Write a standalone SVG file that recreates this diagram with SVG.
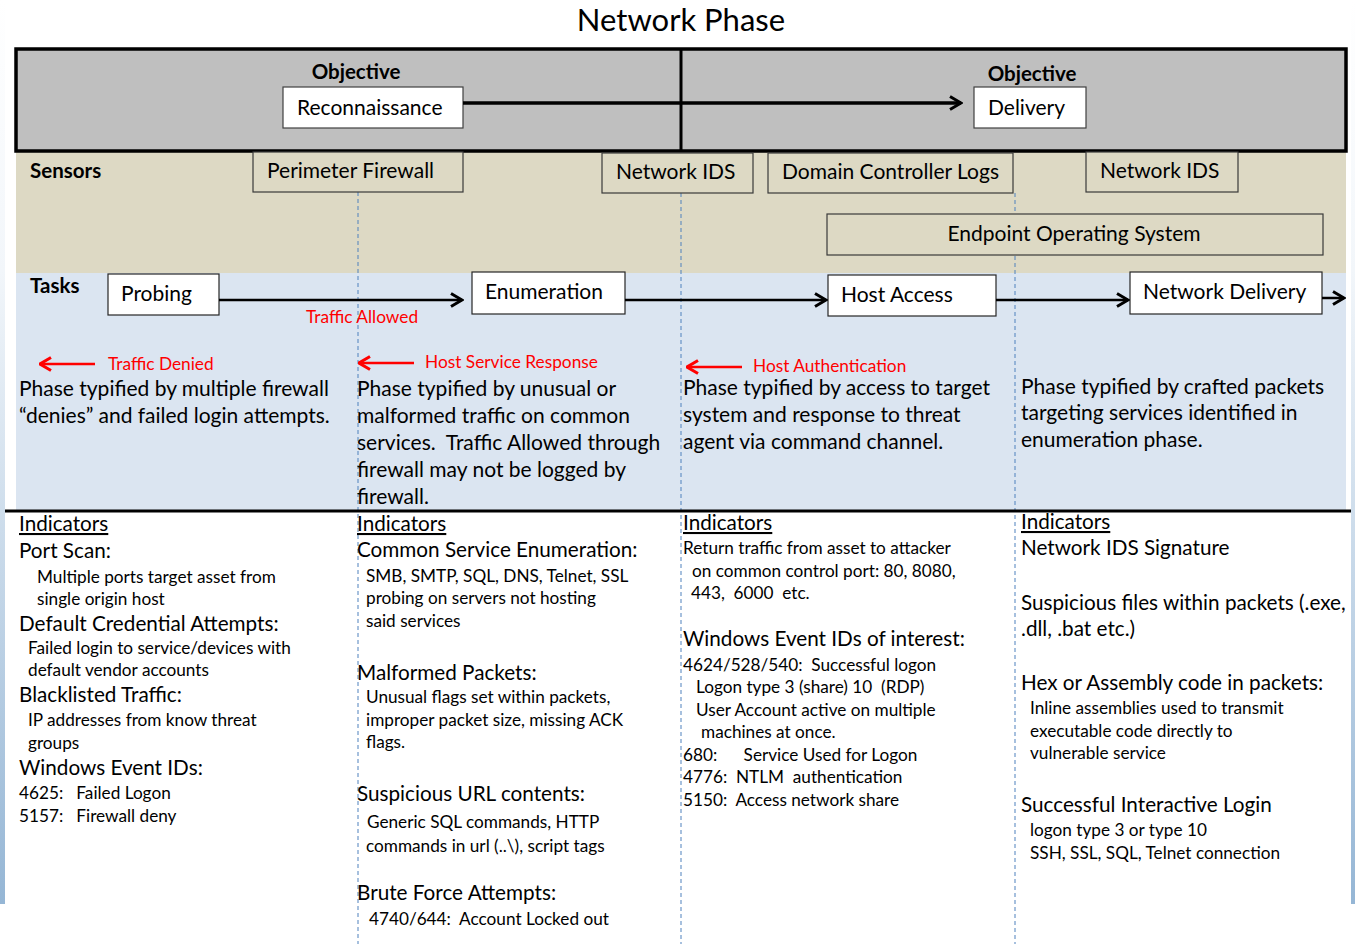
<svg xmlns="http://www.w3.org/2000/svg" width="1355" height="944" viewBox="0 0 1355 944">
  <defs>
    <linearGradient id="edgeFade" x1="0" y1="0" x2="0" y2="1">
      <stop offset="0" stop-color="#ffffff"/>
      <stop offset="0.3" stop-color="#f2f6fa"/>
      <stop offset="1" stop-color="#95b6d5"/>
    </linearGradient>
    <marker id="headBlack" viewBox="0 0 14 16" refX="12.5" refY="8" markerWidth="14" markerHeight="16" markerUnits="userSpaceOnUse" orient="auto">
      <path d="M1.5,1.5 L12.5,8 L1.5,14.5" fill="none" stroke="#000" stroke-width="3"/>
    </marker>
    <marker id="headRed" viewBox="0 0 14 16" refX="12.5" refY="8" markerWidth="14" markerHeight="16" markerUnits="userSpaceOnUse" orient="auto">
      <path d="M1.5,1.5 L12.5,8 L1.5,14.5" fill="none" stroke="#ff0000" stroke-width="3"/>
    </marker>
    <style>
      text { font-family: Lato, "Open Sans", "Liberation Sans", sans-serif; fill: #000; white-space: pre; }
      .title { font-size: 31px; }
      .lbl { font-weight: bold; font-size: 20.5px; }
      .box { font-size: 21px; }
      .red { fill: #ff0000; font-size: 17.3px; }
      .desc { font-size: 21px; }
      .h { font-size: 20.7px; }
      .s { font-size: 17.2px; }
      .u { text-decoration: underline; }
      .objbox { fill: #ffffff; stroke: #404040; stroke-width: 1.2; }
      .taskbox { fill: #ffffff; stroke: #262626; stroke-width: 1.2; }
      .sensor { fill: #ddd9c4; stroke: #3a3a3a; stroke-width: 1.2; }
      .dash { stroke: #4f81bd; stroke-width: 1; stroke-dasharray: 4 3; fill: none; }
      .flow { stroke: #000; fill: none; marker-end: url(#headBlack); }
      .back { stroke: #ff0000; stroke-width: 2.5; fill: none; marker-end: url(#headRed); }
    </style>
  </defs>

  <!-- page background and side fades -->
  <rect x="0" y="0" width="1355" height="944" fill="#ffffff"/>
  <rect x="0" y="0" width="5" height="904" fill="url(#edgeFade)"/>
  <rect x="1351" y="0" width="4" height="904" fill="url(#edgeFade)"/>

  <text class="title" x="681" y="31" text-anchor="middle">Network Phase</text>

  <!-- swimlane bands -->
  <g id="lanes">
    <rect x="16" y="151" width="1330" height="122" fill="#ddd9c4"/>
    <rect x="16" y="273" width="1330" height="238" fill="#dbe5f1"/>
    <rect x="16" y="49" width="1330" height="102" fill="#bfbfbf" stroke="#000" stroke-width="3.5"/>
    <line x1="681" y1="49" x2="681" y2="151" stroke="#000" stroke-width="3"/>
    <text class="lbl" x="30" y="178">Sensors</text>
    <text class="lbl" x="30" y="293">Tasks</text>
  </g>

  <!-- column dividers -->
  <g id="dividers">
    <line class="dash" x1="358" y1="192" x2="358" y2="944"/>
    <line class="dash" x1="681" y1="193" x2="681" y2="944"/>
    <line class="dash" x1="1015" y1="193" x2="1015" y2="944"/>
  </g>

  <line x1="5" y1="511" x2="1351" y2="511" stroke="#000" stroke-width="3"/>

  <!-- objectives -->
  <g id="obj-recon">
    <text class="lbl" x="356" y="79" text-anchor="middle">Objective</text>
    <rect class="objbox" x="283" y="87" width="180" height="41"/>
    <text class="box" x="297" y="115">Reconnaissance</text>
  </g>
  <g id="obj-delivery">
    <text class="lbl" x="1032" y="81" text-anchor="middle">Objective</text>
    <rect class="objbox" x="974" y="87" width="112" height="41"/>
    <text class="box" x="988" y="115">Delivery</text>
  </g>

  <!-- sensors -->
  <g id="sensor-firewall">
    <rect class="sensor" x="253" y="152" width="210" height="40"/>
    <text class="box" x="267" y="178">Perimeter Firewall</text>
  </g>
  <g id="sensor-ids-1">
    <rect class="sensor" x="602" y="153" width="151" height="40"/>
    <text class="box" x="616" y="179">Network IDS</text>
  </g>
  <g id="sensor-dc-logs">
    <rect class="sensor" x="768" y="153" width="245" height="40"/>
    <text class="box" x="782" y="179">Domain Controller Logs</text>
  </g>
  <g id="sensor-ids-2">
    <rect class="sensor" x="1086" y="152" width="152" height="40"/>
    <text class="box" x="1100" y="178">Network IDS</text>
  </g>
  <g id="sensor-endpoint">
    <rect class="sensor" x="827" y="214" width="496" height="41"/>
    <text class="box" x="1074" y="241" text-anchor="middle">Endpoint Operating System</text>
  </g>

  <!-- tasks -->
  <g id="task-probing">
    <rect class="taskbox" x="108" y="274" width="111" height="41"/>
    <text class="box" x="121" y="301">Probing</text>
  </g>
  <g id="task-enumeration">
    <rect class="taskbox" x="472" y="272" width="153" height="42"/>
    <text class="box" x="485" y="299">Enumeration</text>
  </g>
  <g id="task-host-access">
    <rect class="taskbox" x="828" y="275" width="168" height="41"/>
    <text class="box" x="841" y="302">Host Access</text>
  </g>
  <g id="task-network-delivery">
    <rect class="taskbox" x="1130" y="272" width="192" height="42"/>
    <text class="box" x="1143" y="299">Network Delivery</text>
  </g>

  <!-- connectors -->
  <g id="connectors">
    <line class="flow" x1="463" y1="103" x2="961" y2="103" stroke-width="3.5"/>
    <line class="flow" x1="219" y1="300" x2="462" y2="300" stroke-width="2.5"/>
    <line class="flow" x1="625" y1="300" x2="826" y2="300" stroke-width="2.5"/>
    <line class="flow" x1="996" y1="300" x2="1128" y2="300" stroke-width="2.5"/>
    <line class="flow" x1="1322" y1="298" x2="1344" y2="298" stroke-width="2.5"/>
    <line class="back" x1="95" y1="364" x2="40" y2="364"/>
    <line class="back" x1="414" y1="363" x2="359" y2="363"/>
    <line class="back" x1="742" y1="367" x2="687" y2="367"/>
    <text class="red" x="306" y="323">Traffic Allowed</text>
    <text class="red" x="108" y="370">Traffic Denied</text>
    <text class="red" x="425" y="368">Host Service Response</text>
    <text class="red" x="753" y="372">Host Authentication</text>
  </g>

  <!-- phase descriptions -->
  <g id="desc-probing">
    <text class="desc" x="19" y="396">Phase typified by multiple firewall</text>
    <text class="desc" x="19" y="423">“denies” and failed login attempts.</text>
  </g>
  <g id="desc-enumeration">
    <text class="desc" x="357" y="396">Phase typified by unusual or</text>
    <text class="desc" x="357" y="423">malformed traffic on common</text>
    <text class="desc" x="357" y="450">services.  Traffic Allowed through</text>
    <text class="desc" x="357" y="477">firewall may not be logged by</text>
    <text class="desc" x="357" y="504">firewall.</text>
  </g>
  <g id="desc-host-access">
    <text class="desc" x="683" y="395">Phase typified by access to target</text>
    <text class="desc" x="683" y="422">system and response to threat</text>
    <text class="desc" x="683" y="449">agent via command channel.</text>
  </g>
  <g id="desc-network-delivery">
    <text class="desc" x="1021" y="394">Phase typified by crafted packets</text>
    <text class="desc" x="1021" y="420">targeting services identified in</text>
    <text class="desc" x="1021" y="447">enumeration phase.</text>
  </g>

  <!-- indicators -->
  <g id="ind-probing">
    <text class="h u" x="19" y="531">Indicators</text>
    <text class="h" x="19" y="558">Port Scan:</text>
    <text class="s" x="37" y="583">Multiple ports target asset from</text>
    <text class="s" x="37" y="605">single origin host</text>
    <text class="h" x="19" y="631">Default Credential Attempts:</text>
    <text class="s" x="28" y="654">Failed login to service/devices with</text>
    <text class="s" x="28" y="676">default vendor accounts</text>
    <text class="h" x="19" y="702">Blacklisted Traffic:</text>
    <text class="s" x="28" y="726">IP addresses from know threat</text>
    <text class="s" x="28" y="749">groups</text>
    <text class="h" x="19" y="775">Windows Event IDs:</text>
    <text class="s" x="19" y="799">4625:   Failed Logon</text>
    <text class="s" x="19" y="822">5157:   Firewall deny</text>
  </g>
  <g id="ind-enumeration">
    <text class="h u" x="357" y="531">Indicators</text>
    <text class="h" x="357" y="557">Common Service Enumeration:</text>
    <text class="s" x="366" y="582">SMB, SMTP, SQL, DNS, Telnet, SSL</text>
    <text class="s" x="366" y="604">probing on servers not hosting</text>
    <text class="s" x="366" y="627">said services</text>
    <text class="h" x="357" y="680">Malformed Packets:</text>
    <text class="s" x="366" y="703">Unusual flags set within packets,</text>
    <text class="s" x="366" y="726">improper packet size, missing ACK</text>
    <text class="s" x="366" y="748">flags.</text>
    <text class="h" x="357" y="801">Suspicious URL contents:</text>
    <text class="s" x="367" y="828">Generic SQL commands, HTTP</text>
    <text class="s" x="366" y="852">commands in url (..\), script tags</text>
    <text class="h" x="357" y="900">Brute Force Attempts:</text>
    <text class="s" x="369" y="925">4740/644:  Account Locked out</text>
  </g>
  <g id="ind-host-access">
    <text class="h u" x="683" y="530">Indicators</text>
    <text class="s" x="683" y="554">Return traffic from asset to attacker</text>
    <text class="s" x="692" y="577">on common control port: 80, 8080,</text>
    <text class="s" x="691" y="599">443,  6000  etc.</text>
    <text class="h" x="683" y="646">Windows Event IDs of interest:</text>
    <text class="s" x="683" y="671">4624/528/540:  Successful logon</text>
    <text class="s" x="696" y="693">Logon type 3 (share) 10  (RDP)</text>
    <text class="s" x="696" y="716">User Account active on multiple</text>
    <text class="s" x="701" y="738">machines at once.</text>
    <text class="s" x="683" y="761">680:      Service Used for Logon</text>
    <text class="s" x="683" y="783">4776:  NTLM  authentication</text>
    <text class="s" x="683" y="806">5150:  Access network share</text>
  </g>
  <g id="ind-network-delivery">
    <text class="h u" x="1021" y="529">Indicators</text>
    <text class="h" x="1021" y="555">Network IDS Signature</text>
    <text class="h" x="1021" y="610">Suspicious files within packets (.exe,</text>
    <text class="h" x="1021" y="636">.dll, .bat etc.)</text>
    <text class="h" x="1021" y="690">Hex or Assembly code in packets:</text>
    <text class="s" x="1030" y="714">Inline assemblies used to transmit</text>
    <text class="s" x="1030" y="737">executable code directly to</text>
    <text class="s" x="1030" y="759">vulnerable service</text>
    <text class="h" x="1021" y="812">Successful Interactive Login</text>
    <text class="s" x="1030" y="836">logon type 3 or type 10</text>
    <text class="s" x="1030" y="859">SSH, SSL, SQL, Telnet connection</text>
  </g>
</svg>
